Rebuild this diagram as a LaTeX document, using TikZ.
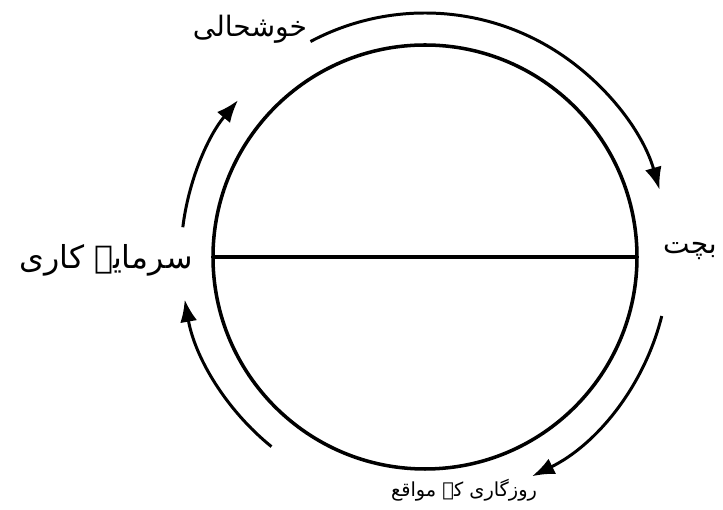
\documentclass[tikz,border=0pt]{standalone}
\usepackage{fontspec}
\newfontfamily\urdufont[Script=Arabic]{DejaVu Sans}
\TeXXeTstate=1
\usetikzlibrary{arrows.meta}

\begin{document}
\begin{tikzpicture}[every node/.style={font=\urdufont\fontsize{16}{18}\selectfont},
  cyclearrow/.style={line width=1.7pt,-{Latex[length=4.5mm,width=3.4mm]}}]
\useasboundingbox (-8.5,-5.06) rectangle (5.96,5.14);
\coordinate (c) at (0,0);
\coordinate (w) at (180:4.24);
\coordinate (e) at (0:4.24);
\draw[line width=2pt] (c) circle (4.24);
\draw[line width=1.8pt] (w)--(e);
% outer cycle arrows
\draw[cyclearrow] (118:4.88) arc (118:16:4.88);
\draw[cyclearrow] (-14:4.88) arc (-14:-64:4.88);
\draw[cyclearrow] (-129:4.88) arc (-129:-170:4.88);
\draw[cyclearrow] (173:4.88) arc (173:140:4.88);
% labels
\node (khushhali) at (-3.5,4.55) {\beginR خوشحالی\endR};
\node (bachat) at (5.3,0.12) {\beginR بچت\endR};
\node[font=\urdufont\fontsize{11}{13}\selectfont] (rozgar) at (0.78,-4.66) {\beginR روزگاری کے مواقع\endR};
\node[font=\urdufont\fontsize{18}{20}\selectfont] (sarmaya) at (-6.38,-0.06) {\beginR سرمایہ کاری\endR};
\end{tikzpicture}
\end{document}
